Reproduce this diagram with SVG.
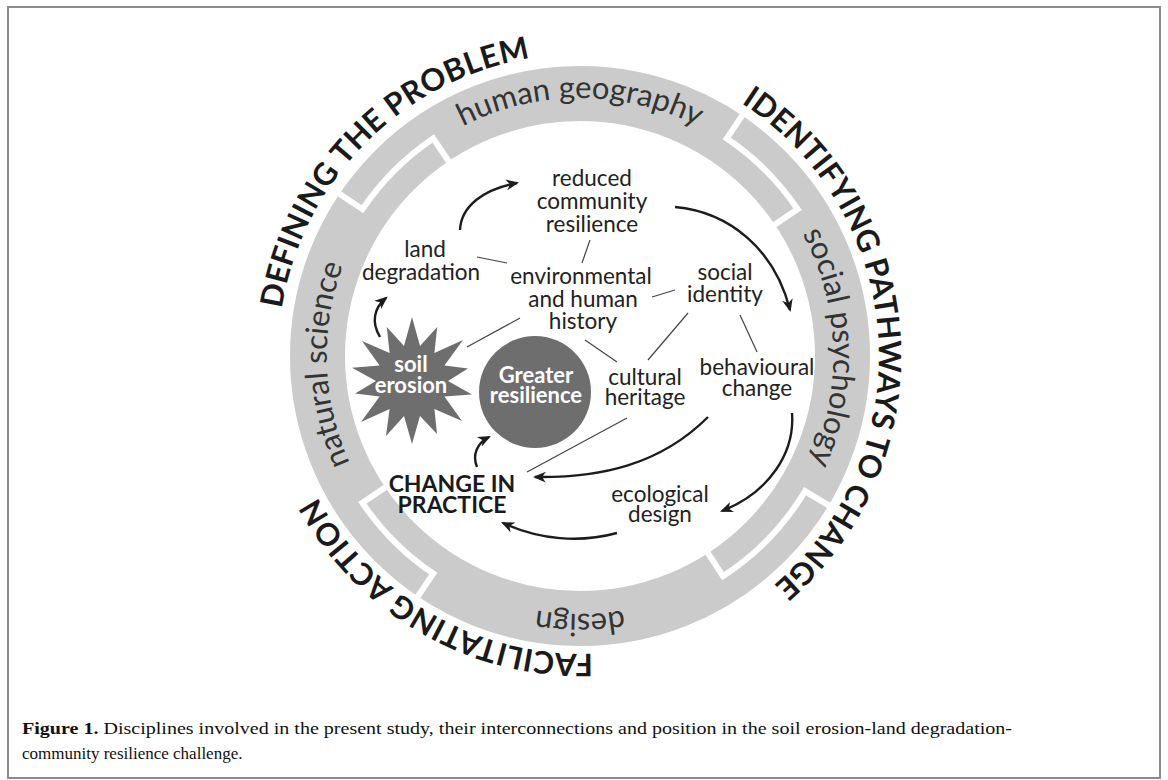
<svg xmlns="http://www.w3.org/2000/svg" width="1168" height="780" viewBox="0 0 1168 780">
<style>
.band{fill:none;stroke:#cbcbcb;stroke-width:55}
.gap{fill:none;stroke:#fff;stroke-width:6;stroke-linejoin:miter}
.blab{font-family:Lato,"Open Sans",sans-serif;font-size:31px;fill:#333}
.olab{font-family:Lato,"Liberation Sans",sans-serif;font-weight:700;font-size:31px;fill:#1a1a1a}
.t{font-family:Lato,"Open Sans",sans-serif;font-size:22.5px;fill:#222;text-anchor:middle}
.tb{font-family:Lato,"Liberation Sans",sans-serif;font-size:23px;font-weight:700;fill:#1a1a1a;text-anchor:middle}
.w{font-family:Lato,"Liberation Sans",sans-serif;font-size:22px;font-weight:700;fill:#fff;text-anchor:middle}
.arr{fill:none;stroke:#1c1c1c;stroke-width:2.4;marker-end:url(#ah)}
.ln{fill:none;stroke:#444;stroke-width:1.2}
.cap{font-family:"Liberation Serif",serif;font-size:17px;fill:#111}
</style>
<defs>
<marker id="ah" viewBox="0 0 12 10" markerWidth="13" markerHeight="11" refX="10" refY="5" orient="auto" markerUnits="userSpaceOnUse">
<path d="M0,0 L12,5 L0,10 L3.5,5 Z" fill="#1c1c1c"/>
</marker>
<path id="pTop" d="M322,356 A258,258 0 0 1 838,356"/>
<path id="pRight" d="M571,98.2 A258,258 0 0 1 589,613.8"/>
<path id="pBottom" d="M838,356 A258,258 0 0 1 322,356"/>
<path id="pLeft" d="M589,613.8 A258,258 0 0 1 571,98.2"/>
<path id="oDef" d="M367.4,570.5 A302,302 0 0 1 792.6,141.5"/>
<path id="oId" d="M559.7,54.7 A302,302 0 0 1 600.3,657.3"/>
<path id="oFac" d="M842.3,505.6 A302,302 0 0 1 317.7,206.4"/>
</defs>
<rect x="8" y="7" width="1152" height="771" fill="#fff" stroke="#8c8c8c" stroke-width="2"/>

<g id="ring">
<circle class="band" cx="580" cy="356" r="262.5"/>
<path class="gap" d="M772.3,226.3 L797.6,209.2 A262.5,262.5 0 0 0 726.8,138.4 L743.8,113.1"/>
<path class="gap" d="M450.3,163.7 L433.2,138.4 A262.5,262.5 0 0 0 362.4,209.2 L337.1,192.2"/>
<path class="gap" d="M387.7,485.7 L362.4,502.8 A262.5,262.5 0 0 0 433.2,573.6 L416.2,598.9"/>
<path class="gap" d="M706.3,550.6 L723,576.2 A262.5,262.5 0 0 0 805,491.2 L831.2,506.9"/>
</g>

<g id="band-labels">
<text class="blab" text-anchor="middle"><textPath href="#pTop" startOffset="50%">human geography</textPath></text>
<text class="blab" text-anchor="middle"><textPath href="#pRight" startOffset="50%">social psychology</textPath></text>
<text class="blab" text-anchor="middle"><textPath href="#pBottom" startOffset="50%">design</textPath></text>
<text class="blab" text-anchor="middle"><textPath href="#pLeft" startOffset="50%">natural science</textPath></text>
</g>

<g id="stage-labels">
<text class="olab" text-anchor="middle"><textPath href="#oDef" startOffset="50%" textLength="377" lengthAdjust="spacing">DEFINING THE PROBLEM</textPath></text>
<text class="olab" text-anchor="middle"><textPath href="#oId" startOffset="50%" textLength="560" lengthAdjust="spacing">IDENTIFYING PATHWAYS TO CHANGE</textPath></text>
<text class="olab" text-anchor="middle"><textPath href="#oFac" startOffset="50%" textLength="334" lengthAdjust="spacing">FACILITATING ACTION</textPath></text>
</g>

<g id="connectors">
<path class="arr" d="M460,230 C461,206 484,189 517,183"/>
<path class="arr" d="M675,207 C730,212 775,250 790,310"/>
<path class="arr" d="M380,337 C371,322 374,308 386,298"/>
<path class="arr" d="M477,467 C472,455 477,443 489,437"/>
<path class="arr" d="M708,417 C660,465 600,478 535,477"/>
<path class="arr" d="M792,413 C795,452 770,492 722,511"/>
<path class="arr" d="M617,533 C580,543 540,540 503,523"/>
<line class="ln" x1="477" y1="257" x2="507" y2="263"/>
<line class="ln" x1="590" y1="240" x2="582" y2="263"/>
<line class="ln" x1="652" y1="297" x2="675" y2="290"/>
<line class="ln" x1="688" y1="313" x2="648" y2="360"/>
<line class="ln" x1="740" y1="315" x2="757" y2="352"/>
<line class="ln" x1="585" y1="340" x2="617" y2="362"/>
<line class="ln" x1="467" y1="347" x2="520" y2="318"/>
<line class="ln" x1="627" y1="418" x2="527" y2="472"/>
</g>

<g id="soil-erosion">
<polygon fill="#6e6e6e" points="412,317 420,346 437.2,327 434.4,352.9 463,340 444.4,365.4 468,368.5 448,381 472,394.4 444.4,396.6 462,421 434.4,409.1 437,434 420,416.1 412,444 404,416.1 386,436 389.6,409.1 361,422 379.6,396.6 355,393.5 376,381 352,367.7 379.6,365.4 362,341 389.6,352.9 386.8,327 404,345.9"/>
<text class="w" x="411" y="372">soil</text>
<text class="w" x="411" y="393">erosion</text>
</g>

<g id="greater-resilience">
<circle cx="535" cy="392" r="56" fill="#6e6e6e"/>
<text class="w" x="536" y="383">Greater</text>
<text class="w" x="536" y="403">resilience</text>
</g>

<g id="land-degradation">
<text class="t" x="425" y="257">land</text>
<text class="t" x="421" y="280">degradation</text>
</g>
<g id="reduced-community-resilience">
<text class="t" x="592" y="186">reduced</text>
<text class="t" x="592" y="209">community</text>
<text class="t" x="592" y="232">resilience</text>
</g>
<g id="environmental-history">
<text class="t" x="581" y="284">environmental</text>
<text class="t" x="583" y="307">and human</text>
<text class="t" x="583" y="329">history</text>
</g>
<g id="social-identity">
<text class="t" x="725" y="280">social</text>
<text class="t" x="725" y="302">identity</text>
</g>
<g id="cultural-heritage">
<text class="t" x="645" y="385">cultural</text>
<text class="t" x="645" y="405">heritage</text>
</g>
<g id="behavioural-change">
<text class="t" x="757" y="375">behavioural</text>
<text class="t" x="757" y="396">change</text>
</g>
<g id="ecological-design">
<text class="t" x="660" y="502">ecological</text>
<text class="t" x="660" y="522">design</text>
</g>
<g id="change-in-practice">
<text class="tb" x="452" y="492">CHANGE IN</text>
<text class="tb" x="452" y="513">PRACTICE</text>
</g>

<g id="caption">
<text class="cap" x="22" y="734" textLength="990" lengthAdjust="spacingAndGlyphs"><tspan font-weight="700">Figure 1.</tspan> Disciplines involved in the present study, their interconnections and position in the soil erosion-land degradation-</text>
<text class="cap" x="22" y="759">community resilience challenge.</text>
</g>
</svg>
